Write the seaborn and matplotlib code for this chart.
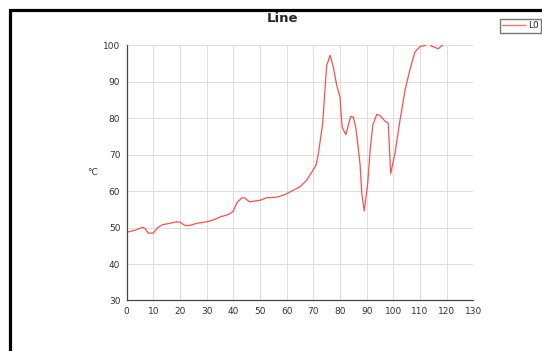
import matplotlib
matplotlib.use("Agg")
import matplotlib.pyplot as plt
import matplotlib.patches as patches
from matplotlib.lines import Line2D
import pandas as pd
import seaborn as sns

# values
time_pts = [0.4, 3.2, 6, 7, 8.1, 10, 11.7, 13.4, 15.6, 18.8, 20, 21.9, 23.7, 26.3, 30,
            32.5, 35, 38.1, 40, 41.3, 43.2, 44.2, 46, 50, 52.5, 55.6, 57.5, 60, 62.5,
            65, 67.5, 71, 71.9, 73.5, 75, 76.3, 77.5, 78.8, 80, 80.8, 82.2, 83.1, 84,
            85, 86, 87.5, 88.2, 89.1, 90.4, 91.3, 92.3, 93.8, 95, 96.9, 98.1, 99,
            100.6, 102.5, 104.4, 106.3, 108.1, 110, 111.9, 113.5, 114.4, 116.9,
            118.5, 120]
temps = [48.8, 49.3, 50.1, 49.7, 48.5, 48.5, 50.0, 50.8, 51.1, 51.6, 51.5, 50.6, 50.6,
         51.2, 51.6, 52.1, 52.9, 53.6, 54.5, 56.8, 58.2, 58.2, 57.1, 57.5, 58.2, 58.3,
         58.6, 59.3, 60.3, 61.2, 63.0, 67.1, 70.3, 78.5, 94.5, 97.3, 94.1, 89.0, 85.8,
         77.6, 75.5, 78.1, 80.5, 80.4, 77.2, 67.6, 59.4, 54.6, 62.1, 71.2, 78.1, 81.1,
         80.8, 79.2, 78.7, 64.8, 70.3, 79.5, 87.7, 93.6, 98.2, 99.7, 100.0, 100.6,
         99.8, 99.1, 100.2, 102]
x_ticks = [0, 10, 20, 30, 40, 50, 60, 70, 80, 90, 100, 110, 120, 130]
y_ticks = [30, 40, 50, 60, 70, 80, 90, 100]

df = pd.DataFrame({"x": time_pts, "value": temps, "series": "L0"})

sns.set_style("white")
plt.rcParams["font.family"] = ["DejaVu Sans"]

fig = plt.figure(figsize=(5.42, 3.51), dpi=100)
ax = fig.add_axes([0.2336, 0.1439, 0.6397, 0.7265])

sns.lineplot(data=df, x="x", y="value", hue="series", palette=["#ff3030"],
             linewidth=0.9, alpha=0.85, ax=ax, legend=False)

ax.set_xlim(0, 130)
ax.set_ylim(30, 100)
ax.set_xticks(x_ticks)
ax.set_yticks(y_ticks)
ax.grid(True, color="#dedede", linewidth=0.7)
ax.set_axisbelow(True)
for s in ["top", "right"]:
    ax.spines[s].set_visible(False)
for s in ["left", "bottom"]:
    ax.spines[s].set_color("#444444")
    ax.spines[s].set_linewidth(0.9)
ax.tick_params(direction="inout", length=5, width=0.8, color="#444444",
               labelsize=6.5, labelcolor="#333333", pad=2)
ax.set_xlabel("")
ax.set_ylabel("°C", rotation=0, fontsize=6.5, color="#333333", labelpad=8, va="center")

fig.text(283 / 542, 1 - 18 / 351, "Line", ha="center", va="center",
         fontsize=9.5, fontweight="bold")

# legend box up in the corner, outside the axes
handle = Line2D([], [], color="#ff3030", alpha=0.7, linewidth=1)
fig.legend([handle], ["L0"], loc="upper right", bbox_to_anchor=(541 / 542, 1 - 19 / 351),
           fontsize=6.5, frameon=True, fancybox=False, edgecolor="#555555",
           handlelength=2.6, handletextpad=0.3, borderpad=0.25, borderaxespad=0)

# thick black frame along top and left edge
fig.add_artist(patches.Rectangle((9.5 / 542, -0.1), 1.2, 1.1 - 9.5 / 351,
                                 transform=fig.transFigure, fill=False,
                                 edgecolor="black", linewidth=2.3))

fig.savefig("out.png", dpi=100)
